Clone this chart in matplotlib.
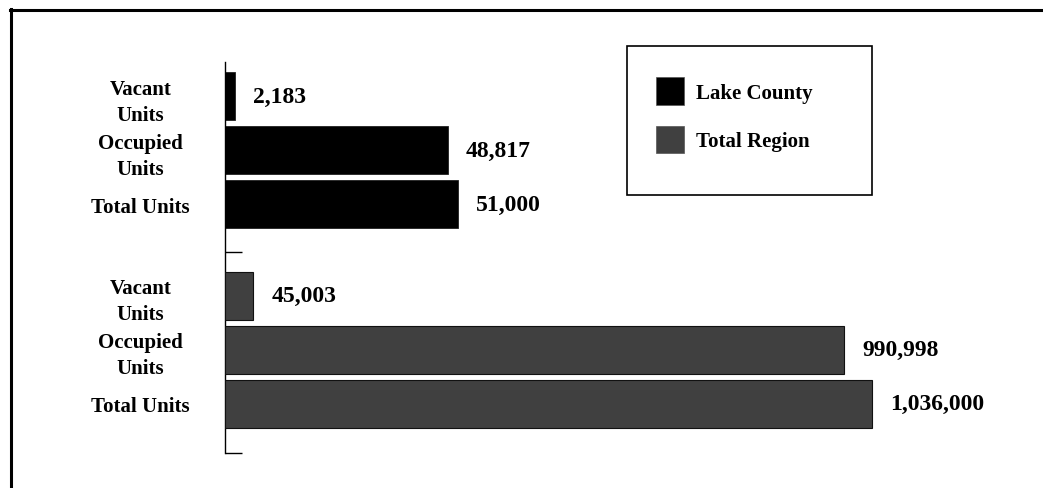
import matplotlib
matplotlib.use("Agg")
import matplotlib.pyplot as plt
from matplotlib.patches import Patch, Rectangle
from matplotlib.lines import Line2D
import numpy as np

plt.rcParams['font.family'] = ['Liberation Serif', 'DejaVu Serif']
plt.rcParams['font.weight'] = 'bold'

categories = ["Vacant\nUnits", "Occupied\nUnits", "Total Units"]
lake_county = [2183, 48817, 51000]
total_region = [45003, 990998, 1036000]
series_names = ["Lake County", "Total Region"]
colors = ["#000000", "#404040"]

W, H = 1043, 489
fig = plt.figure(figsize=(W / 100, H / 100), dpi=100)

def px(x0, y0, x1, y1):
    # pixel box (top-left origin) -> figure fraction rect
    return [x0 / W, 1 - y1 / H, (x1 - x0) / W, (y1 - y0) / H]

ax = fig.add_axes(px(225, 63, 1010, 454))
ax2 = ax.twiny()

y_lake = np.arange(3)
y_region = np.arange(3) + 3.7

ax.barh(y_lake, lake_county, height=0.9, color=colors[0], edgecolor="#202020", linewidth=0.6)
ax2.barh(y_region, total_region, height=0.9, color=colors[1], edgecolor="#111111", linewidth=0.8)

# each group gets its own linear scale
ax.set_xlim(0, 172000)
ax2.set_xlim(0, 1257000)
ax.set_ylim(6.61, -0.63)

for a, ys, vals in [(ax, y_lake, lake_county), (ax2, y_region, total_region)]:
    for y, v in zip(ys, vals):
        a.annotate(f"{v:,}", xy=(v, y), xytext=(13, 0), textcoords="offset points",
                   ha="left", va="center", fontsize=17, fontweight="bold")

for a in (ax, ax2):
    for s in ("top", "right", "bottom"):
        a.spines[s].set_visible(False)
    a.set_xticks([])
ax2.spines["left"].set_visible(False)
ax.spines["left"].set_linewidth(1.0)

ax.set_yticks(list(y_lake) + list(y_region))
ax.set_yticklabels(categories * 2, fontsize=15, fontweight="bold",
                   ha="center", linespacing=1.4)
ax.tick_params(axis="y", which="major", length=0, pad=61)
ax.set_yticks([2.89, 6.61], minor=True)
ax.tick_params(axis="y", which="minor", direction="in", length=12, width=1.0)

# legend box
fig.add_artist(Rectangle((627 / W, 1 - 196 / H), (872 - 627) / W, (196 - 47) / H,
                         transform=fig.transFigure, fill=False, edgecolor="black",
                         linewidth=1.2))
handles = [Patch(facecolor=c, edgecolor="#555555", linewidth=0.5) for c in colors]
fig.legend(handles, series_names, loc="upper left",
           bbox_to_anchor=(646 / W, 1 - 68 / H), frameon=False, borderpad=0,
           handlelength=1.3, handleheight=1.65, handletextpad=0.6,
           labelspacing=1.0, prop={"size": 15, "weight": "bold"})

# outer frame
fig.add_artist(Line2D([10 / W, 1], [1 - 11 / H, 1 - 11 / H], color="black", linewidth=2.2,
                      transform=fig.transFigure))
fig.add_artist(Line2D([11 / W, 11 / W], [0, 1 - 10 / H], color="black", linewidth=2.2,
                      transform=fig.transFigure))

fig.savefig("out.png", dpi=100)
